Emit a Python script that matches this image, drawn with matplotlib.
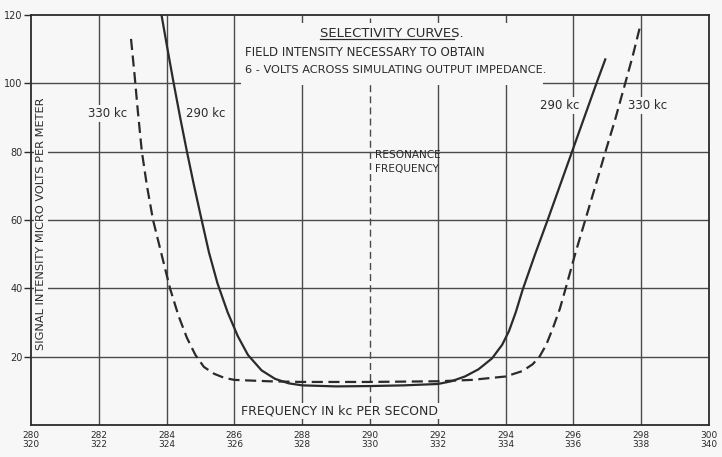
import matplotlib
matplotlib.use("Agg")
import matplotlib.pyplot as plt
from matplotlib.patches import Rectangle

# ---------------- data ----------------
# 290 kc curve (upper frequency scale, 280-300 kc)
freq_290 = [283.85, 284.0, 284.2, 284.4, 284.6, 284.8, 285.0, 285.25, 285.5, 285.8,
            286.1, 286.4, 286.8, 287.2, 287.6, 288.0, 289.0, 290.0, 291.0, 292.0,
            292.4, 292.8, 293.2, 293.6, 293.9, 294.1, 294.3, 294.5, 294.87, 295.24,
            295.6, 295.96, 296.32, 296.68, 296.94]
signal_290 = [120, 111.5, 100.5, 90, 80, 70.5, 61.5, 50.5, 41.5, 33,
              26, 20.5, 16, 13.5, 12.2, 11.6, 11.3, 11.4, 11.6, 12,
              12.8, 14.2, 16.3, 19.5, 23.5, 27.5, 33, 39.5, 50, 60,
              70, 80, 90, 100, 107]

# 330 kc curve (lower frequency scale, 320-340 kc)
freq_330 = [322.95, 323.05, 323.15, 323.27, 323.42, 323.6, 323.85, 324.1, 324.35, 324.6,
            324.85, 325.1, 325.4, 325.7, 326.0, 327.0, 328.0, 330.0, 332.0, 333.0,
            334.0, 334.5, 334.8, 335.0, 335.2, 335.4, 335.6, 335.8, 336.05, 336.35,
            336.65, 336.93, 337.22, 337.5, 337.75, 337.95]
signal_330 = [113, 103, 92, 80, 70, 60, 50, 40, 32, 25.5,
              20.5, 17, 15, 13.8, 13.2, 12.8, 12.6, 12.6, 12.8, 13.2,
              14.2, 15.8, 17.8, 20, 23.5, 28.5, 34, 41, 50, 60,
              70, 79.5, 89, 99, 108, 116]

x_ticks_upper = [280, 282, 284, 286, 288, 290, 292, 294, 296, 298, 300]
x_labels_upper = ["280", "282", "284", "286", "288", "290", "292", "294", "296", "298", "300"]
x_labels_lower = ["320", "322", "324", "326", "328", "330", "332", "334", "336", "338", "340"]
y_ticks = [20, 40, 60, 80, 100, 120]
y_labels = ["20", "40", "60", "80", "100", "120"]
grid_x = [282, 284, 286, 288, 292, 294, 296, 298]
grid_y = [20, 40, 60, 80, 100]
resonance = 290

# ---------------- style ----------------
BG = "#f7f7f7"
INK = "#2b2b2b"
GRID = "#4a4a4a"
FONT = "DejaVu Sans"

W, H = 722, 457
fig = plt.figure(figsize=(W / 100, H / 100), dpi=100, facecolor=BG)
ax = fig.add_axes([31 / W, 32 / H, 678 / W, 410 / H])
ax.set_facecolor(BG)
ax.set_xlim(280, 300)
ax.set_ylim(0, 120)

for s in ax.spines.values():
    s.set_color(INK)
    s.set_linewidth(1.3)

# grid
ax.vlines(grid_x, 0, 120, colors=GRID, linewidth=1.0, zorder=1)
ax.hlines(grid_y, 280, 300, colors=GRID, linewidth=1.0, zorder=1)
ax.vlines([resonance], 0, 120, colors=GRID, linewidth=1.0, linestyles=(0, (5, 3)), zorder=1)

# ticks
ax.set_xticks(x_ticks_upper)
ax.set_xticklabels([f"{a}\n{b}" for a, b in zip(x_labels_upper, x_labels_lower)],
                   fontsize=6.5, family=FONT, color=INK, linespacing=1.05)
ax.tick_params(axis="x", length=0, pad=4)
ax.set_yticks(y_ticks)
ax.set_yticklabels(y_labels, fontsize=7, family=FONT, color=INK)
ax.tick_params(axis="y", length=5, width=1.0, color=INK, pad=1)

# 290 kc curve (solid)
ax.plot(freq_290, signal_290, color=INK, linewidth=1.6, zorder=5,
        solid_joinstyle="round")

# 330 kc curve (dashed), on its own frequency scale
ax2 = ax.twiny()
ax2.set_xlim(320, 340)
ax2.set_ylim(0, 120)
ax2.axis("off")
ax2.plot(freq_330, signal_330, color=INK, linewidth=1.6, linestyle=(0, (5, 2.5)), zorder=5)

# title block background
ax.add_patch(Rectangle((286.2, 99.5), 8.9, 18.2, facecolor=BG, edgecolor="none", zorder=2))

tkw = dict(family=FONT, color=INK, zorder=3)
t = ax.text(290.65, 113.6, "SELECTIVITY CURVES.", fontsize=9.5, ha="center", va="baseline", **tkw)
ax.text(286.3, 109.0, "FIELD INTENSITY NECESSARY TO OBTAIN", fontsize=8.6, ha="left", va="center", **tkw)
ax.text(286.3, 103.9, "6 - VOLTS ACROSS SIMULATING OUTPUT IMPEDANCE.", fontsize=8.2,
        ha="left", va="center", **tkw)

# underline the title
fig.canvas.draw()
bb = t.get_window_extent().transformed(ax.transData.inverted())
ax.plot([bb.x0, bb.x1 - 0.3], [112.9, 112.9], color=INK, linewidth=0.9, zorder=3)

box = dict(facecolor=BG, edgecolor="none", pad=1.5)
ax.text(282.27, 91.2, "330 kc", fontsize=8.5, ha="center", va="center", bbox=box, **tkw)
ax.text(285.16, 91.2, "290 kc", fontsize=8.5, ha="center", va="center", bbox=box, **tkw)
ax.text(295.6, 93.6, "290 kc", fontsize=8.5, ha="center", va="center", bbox=box, **tkw)
ax.text(298.2, 93.6, "330 kc", fontsize=8.5, ha="center", va="center", bbox=box, **tkw)

ax.text(290.15, 79.0, "RESONANCE", fontsize=7.6, ha="left", va="center", **tkw)
ax.text(290.15, 75.0, "FREQUENCY", fontsize=7.6, ha="left", va="center", **tkw)

ax.text(286.2, 4.1, "FREQUENCY IN kc PER SECOND", fontsize=9, ha="left", va="center",
        bbox=dict(facecolor=BG, edgecolor="none", pad=1.0), **tkw)

ax.text(280.3, 59, "SIGNAL INTENSITY MICRO VOLTS PER METER", fontsize=8.2, rotation=90,
        ha="center", va="center", bbox=dict(facecolor=BG, edgecolor="none", pad=1.5), **tkw)

fig.savefig("out.png", dpi=100, facecolor=BG)
